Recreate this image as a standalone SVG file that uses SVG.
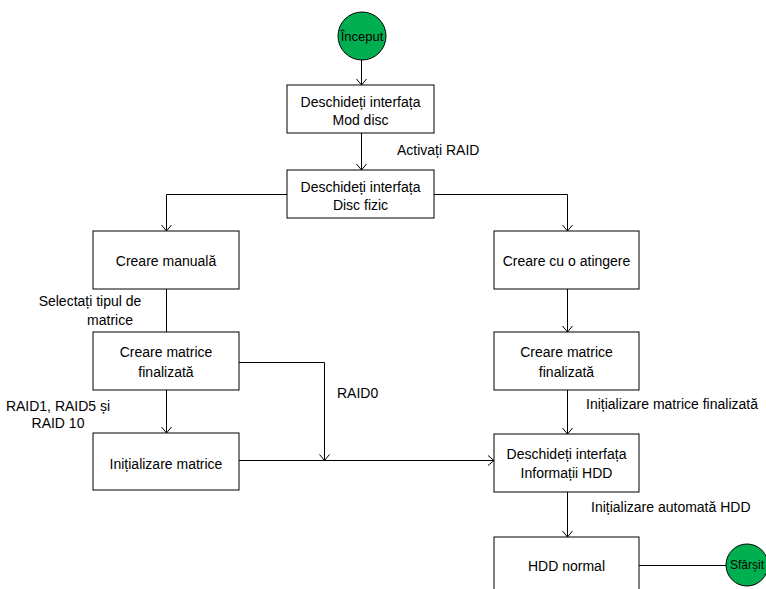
<svg xmlns="http://www.w3.org/2000/svg" width="766" height="589" viewBox="0 0 766 589">
<defs>
<style>
.box{fill:#fff;stroke:#000;stroke-width:1}
.circ{fill:#00B050;stroke:#000;stroke-width:1}
.t{font-family:"Liberation Sans",Arial,sans-serif;font-size:14px;fill:#000;text-anchor:middle}
.l{font-family:"Liberation Sans",Arial,sans-serif;font-size:14px;fill:#000}
.c{fill:none;stroke:#000;stroke-width:1}
</style>
<marker id="arr" markerWidth="12" markerHeight="12" refX="10" refY="6" orient="auto" markerUnits="userSpaceOnUse">
<polyline points="4,1 10,6 4,11" fill="none" stroke="#000" stroke-width="1"/>
</marker>
</defs>
<rect width="766" height="589" fill="#fff"/>
<g id="connectors">
<line class="c" x1="361.5" y1="60" x2="361.5" y2="85" marker-end="url(#arr)"/>
<line class="c" x1="361.5" y1="133" x2="361.5" y2="170" marker-end="url(#arr)"/>
<polyline class="c" points="287,194.5 166.5,194.5 166.5,231" marker-end="url(#arr)"/>
<polyline class="c" points="434,194.5 567.5,194.5 567.5,231" marker-end="url(#arr)"/>
<line class="c" x1="166.5" y1="289" x2="166.5" y2="332"/>
<line class="c" x1="166.5" y1="390" x2="166.5" y2="433" marker-end="url(#arr)"/>
<polyline class="c" points="239,362.5 324.5,362.5 324.5,460.5" marker-end="url(#arr)"/>
<line class="c" x1="239" y1="460.5" x2="494" y2="460.5" marker-end="url(#arr)"/>
<line class="c" x1="567.5" y1="289" x2="567.5" y2="332" marker-end="url(#arr)"/>
<line class="c" x1="567.5" y1="390" x2="567.5" y2="434" marker-end="url(#arr)"/>
<line class="c" x1="567.5" y1="492" x2="567.5" y2="537" marker-end="url(#arr)"/>
<line class="c" x1="639" y1="565.5" x2="726" y2="565.5"/>
<text class="l" x="397" y="155">Activați RAID</text>
<text class="t" x="90" y="306">Selectați tipul de</text>
<text class="t" x="110" y="325">matrice</text>
<text class="l" x="337" y="398">RAID0</text>
<text class="t" x="58" y="411">RAID1, RAID5 și</text>
<text class="t" x="58" y="428">RAID 10</text>
<text class="l" x="586" y="409">Inițializare matrice finalizată</text>
<text class="l" x="591" y="512">Inițializare automată HDD</text>
</g>
<g id="start"><circle class="circ" cx="362" cy="36" r="24"/><text class="t" x="362" y="41" style="font-size:13px">Început</text></g>
<g id="mod-disc"><rect class="box" x="287" y="85" width="147" height="48"/><text class="t" x="360.5" y="107">Deschideți interfața</text><text class="t" x="360.5" y="125">Mod disc</text></g>
<g id="disc-fizic"><rect class="box" x="287" y="170" width="147" height="48"/><text class="t" x="360.5" y="192">Deschideți interfața</text><text class="t" x="360.5" y="210">Disc fizic</text></g>
<g id="creare-manuala"><rect class="box" x="93" y="231" width="146" height="58"/><text class="t" x="166" y="266">Creare manuală</text></g>
<g id="creare-atingere"><rect class="box" x="494" y="231" width="145" height="58"/><text class="t" x="566.5" y="266">Creare cu o atingere</text></g>
<g id="matrice-stanga"><rect class="box" x="93" y="332" width="146" height="58"/><text class="t" x="166" y="357">Creare matrice</text><text class="t" x="166" y="377">finalizată</text></g>
<g id="matrice-dreapta"><rect class="box" x="494" y="332" width="145" height="58"/><text class="t" x="566.5" y="357">Creare matrice</text><text class="t" x="566.5" y="377">finalizată</text></g>
<g id="initializare-matrice"><rect class="box" x="93" y="433" width="146" height="57"/><text class="t" x="166" y="469">Inițializare matrice</text></g>
<g id="informatii-hdd"><rect class="box" x="494" y="434" width="145" height="58"/><text class="t" x="566.5" y="459">Deschideți interfața</text><text class="t" x="566.5" y="478">Informații HDD</text></g>
<g id="hdd-normal"><rect class="box" x="494" y="537" width="145" height="58"/><text class="t" x="566.5" y="571">HDD normal</text></g>
<g id="end"><circle class="circ" cx="747" cy="565" r="21"/><text class="t" x="747" y="569" style="font-size:12px">Sfârșit</text></g>
</svg>
